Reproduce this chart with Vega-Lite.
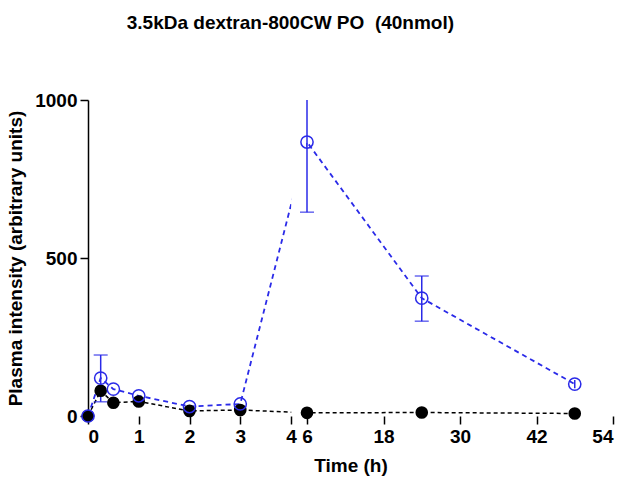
{
  "$schema": "https://vega.github.io/schema/vega-lite/v6.json",
  "autosize": {"type": "none"},
  "padding": {"left": 88, "top": 100, "right": 12, "bottom": 61},
  "width": 525,
  "height": 316,
  "background": "white",
  "title": {
    "text": "3.5kDa dextran-800CW PO\u00a0\u00a0(40nmol)",
    "font": "Liberation Sans",
    "fontSize": 19,
    "fontWeight": "bold",
    "color": "black",
    "anchor": "start",
    "dx": 120,
    "offset": 58
  },
  "config": {
    "view": {"stroke": null},
    "axis": {
      "grid": false,
      "labelFont": "Liberation Sans",
      "labelFontSize": 19,
      "labelFontWeight": "bold",
      "labelColor": "black",
      "titleFont": "Liberation Sans",
      "titleFontSize": 19,
      "titleFontWeight": "bold",
      "titleColor": "black",
      "tickColor": "black",
      "tickSize": 8,
      "tickWidth": 1.5,
      "domainColor": "black",
      "domainWidth": 1.5
    }
  },
  "datasets": {
    "pts": [
      {"t": 0, "series": "blue", "v": 0, "lo": 0, "hi": 0},
      {"t": 0.25, "series": "blue", "v": 120, "lo": 45, "hi": 193},
      {"t": 0.5, "series": "blue", "v": 85, "lo": 85, "hi": 85},
      {"t": 1, "series": "blue", "v": 64, "lo": 64, "hi": 64},
      {"t": 2, "series": "blue", "v": 30, "lo": 30, "hi": 30},
      {"t": 3, "series": "blue", "v": 38, "lo": 38, "hi": 38},
      {"t": 6, "series": "blue", "v": 867, "lo": 645, "hi": 1089},
      {"t": 24, "series": "blue", "v": 373, "lo": 300, "hi": 443},
      {"t": 48, "series": "blue", "v": 101, "lo": 88, "hi": 114},
      {"t": 0, "series": "black", "v": 0, "lo": 0, "hi": 0},
      {"t": 0.25, "series": "black", "v": 80, "lo": 80, "hi": 80},
      {"t": 0.5, "series": "black", "v": 42, "lo": 42, "hi": 42},
      {"t": 1, "series": "black", "v": 46, "lo": 46, "hi": 46},
      {"t": 2, "series": "black", "v": 16, "lo": 16, "hi": 16},
      {"t": 3, "series": "black", "v": 19, "lo": 19, "hi": 19},
      {"t": 6, "series": "black", "v": 10, "lo": 10, "hi": 10},
      {"t": 24, "series": "black", "v": 11, "lo": 11, "hi": 11},
      {"t": 48, "series": "black", "v": 8, "lo": 8, "hi": 8}
    ],
    "segs": [
      {"a": 0, "b": 4},
      {"a": 6, "b": 54}
    ],
    "gap": [
      {"a": 4.03, "b": 5.9, "lo": 0, "hi": 1000}
    ]
  },
  "encoding": {
    "x": {
      "field": "t",
      "type": "quantitative",
      "scale": {"domain": [0, 4, 6, 54], "range": [0, 203, 219, 525], "nice": false, "zero": false},
      "axis": {"values": [0, 1, 2, 3, 4, 6, 18, 30, 42, 54], "domain": false, "title": "Time (h)", "labelPadding": 3, "titlePadding": 10}
    },
    "y": {
      "field": "v",
      "type": "quantitative",
      "scale": {"domain": [0, 1000], "nice": false},
      "axis": {"values": [0, 500, 1000], "format": "d", "title": "Plasma intensity (arbitrary units)", "labelPadding": 3, "titlePadding": 9}
    }
  },
  "layer": [
    {
      "data": {"name": "pts"},
      "transform": [{"filter": "datum.series === 'black'"}],
      "mark": {"type": "line", "color": "black", "strokeWidth": 1.5, "strokeDash": [4, 3]}
    },
    {
      "data": {"name": "pts"},
      "transform": [{"filter": "datum.series === 'blue'"}],
      "mark": {"type": "line", "color": "#2a2ae8", "strokeWidth": 1.8, "strokeDash": [5, 4]}
    },
    {
      "data": {"name": "gap"},
      "mark": {"type": "rect", "color": "white", "opacity": 1},
      "encoding": {
        "x": {"field": "a", "type": "quantitative"},
        "x2": {"field": "b"},
        "y": {"field": "lo", "type": "quantitative"},
        "y2": {"field": "hi"}
      }
    },
    {
      "data": {"name": "segs"},
      "mark": {"type": "rule", "color": "black", "strokeWidth": 1.5},
      "encoding": {
        "x": {"field": "a", "type": "quantitative"},
        "x2": {"field": "b"},
        "y": {"datum": 0}
      }
    },
    {
      "data": {"name": "pts"},
      "transform": [{"filter": "datum.series === 'blue'"}],
      "mark": {"type": "rule", "color": "#2a2ae8", "strokeWidth": 1.5, "clip": true},
      "encoding": {
        "y": {"field": "lo", "type": "quantitative"},
        "y2": {"field": "hi"}
      }
    },
    {
      "data": {"name": "pts"},
      "transform": [{"filter": "datum.series === 'blue' && datum.hi > datum.v + 15"}],
      "mark": {"type": "tick", "orient": "horizontal", "color": "#2a2ae8", "size": 14, "thickness": 1.5, "clip": true},
      "encoding": {
        "y": {"field": "hi", "type": "quantitative"}
      }
    },
    {
      "data": {"name": "pts"},
      "transform": [{"filter": "datum.series === 'blue' && datum.hi > datum.v + 15"}],
      "mark": {"type": "tick", "orient": "horizontal", "color": "#2a2ae8", "size": 14, "thickness": 1.5, "clip": true},
      "encoding": {
        "y": {"field": "lo", "type": "quantitative"}
      }
    },
    {
      "data": {"name": "pts"},
      "transform": [{"filter": "datum.series === 'black'"}],
      "mark": {"type": "point", "shape": "circle", "filled": true, "color": "black", "size": 160, "opacity": 1}
    },
    {
      "data": {"name": "pts"},
      "transform": [{"filter": "datum.series === 'blue'"}],
      "mark": {"type": "point", "shape": "circle", "filled": false, "color": "#2a2ae8", "size": 150, "strokeWidth": 1.5, "opacity": 1}
    }
  ]
}
